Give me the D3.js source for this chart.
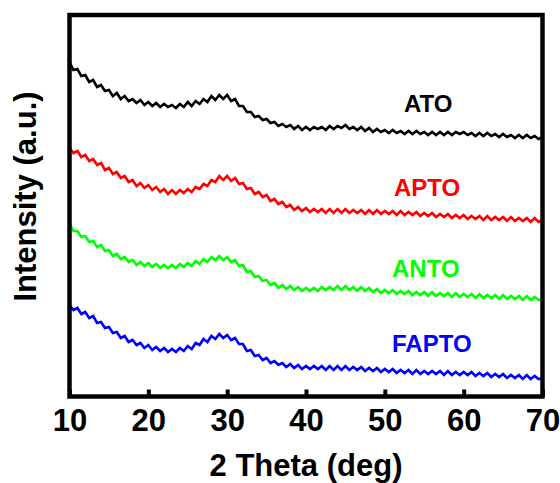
<!DOCTYPE html>
<html>
<head>
<meta charset="utf-8">
<script src="https://cdn.jsdelivr.net/npm/d3@7"></script>
<style>
  html, body { margin: 0; padding: 0; background: #fff; }
  svg { display: block; }
</style>
</head>
<body>
<svg id="chart" width="560" height="483"></svg>
<script>
// ---- data ----
// sampling grid of 2-theta (deg), 0.5 deg steps from 10 to 70
const twoTheta = d3.range(10, 70.25, 0.5);

const ATO = [
  334,326, 327,320, 321,314, 316,309, 311,305, 306,300, 303,297, 300,295, 297,293, 296,291,
  294,290, 293,289, 292,289, 291,288, 292,289, 294,290, 295,292, 297,294, 300,296, 301,297,
  301,295, 297,290, 290,284, 284,279, 280,276, 277,273, 274,270, 272,269, 271,267, 270,266,
  269,266, 269,267, 269,266, 270,267, 270,268, 271,267, 269,266, 269,265, 268,264, 267,264,
  266,263, 266,263, 265,262, 265,262, 265,262, 264,261, 264,261, 264,261, 264,261, 264,262,
  264,261, 263,260, 263,260, 263,260, 262,259, 262,259, 261,258, 261,258, 261,258, 260,257,
  259
];
const APTO = [
  248,243, 245,239, 241,235, 237,231, 233,226, 228,222, 224,218, 220,214, 216,210, 213,208,
  211,206, 209,204, 207,202, 206,202, 206,203, 207,204, 209,207, 212,210, 216,214, 220,216,
  220,215, 218,212, 213,207, 208,202, 204,199, 201,195, 197,192, 194,189, 191,186, 189,185,
  188,184, 187,184, 187,183, 187,183, 187,183, 187,183, 186,183, 186,182, 186,182, 186,182,
  185,182, 185,181, 185,181, 184,181, 184,180, 183,180, 183,179, 182,179, 182,178, 181,178,
  181,177, 180,177, 180,176, 180,176, 179,176, 179,175, 179,175, 178,175, 178,174, 178,174,
  176
];
const ANTO = [
  173,165, 165,159, 160,154, 155,149, 151,145, 146,140, 142,137, 139,134, 136,131, 134,130,
  133,129, 132,128, 131,128, 131,128, 132,129, 133,130, 135,132, 137,134, 139,136, 140,136,
  139,134, 136,130, 131,124, 125,119, 120,115, 116,111, 113,108, 111,107, 110,106, 109,105,
  108,105, 108,105, 109,106, 109,106, 110,106, 110,106, 109,105, 109,105, 108,104, 107,103,
  106,103, 106,102, 105,102, 105,101, 104,101, 104,100, 104,100, 103,100, 103,99, 103,99,
  102,99, 102,98, 102,98, 101,98, 101,97, 101,97, 100,97, 100,96, 100,96, 99,96,
  97
];
const FAPTO = [
  91,86, 88,82, 84,78, 80,73, 74,68, 69,63, 64,58, 60,54, 56,51, 53,48,
  51,46, 49,45, 48,44, 47,44, 48,45, 50,47, 53,51, 57,54, 60,57, 62,58,
  61,56, 58,52, 52,45, 46,40, 41,36, 38,33, 35,31, 33,29, 32,28, 31,27,
  30,27, 30,27, 30,26, 30,26, 30,26, 30,26, 29,26, 29,25, 28,25, 28,24,
  27,24, 27,23, 26,23, 26,22, 26,22, 25,22, 25,22, 25,21, 25,21, 24,21,
  24,21, 24,20, 23,20, 23,19, 22,19, 22,18, 21,18, 21,17, 21,17, 20,17,
  18
];

const seriesNames = ["ATO", "APTO", "ANTO", "FAPTO"];
const seriesValues = [ATO, APTO, ANTO, FAPTO];
const seriesColors = ["#000000", "#ff0000", "#00ff00", "#0000ff"];
const xTicks = [10, 20, 30, 40, 50, 60, 70];
const xTitle = "2 Theta (deg)";
const yTitle = "Intensity (a.u.)";

// ---- layout ----
const L = 69.5, R = 542.5, T = 15, B = 396.5;
const FONT = "'Liberation Sans', Arial, Helvetica, sans-serif";
const svg = d3.select("#chart");

const x = d3.scaleLinear().domain([10, 70]).range([L, R]);
const y = d3.scaleLinear().domain([0, 380]).range([396, 16]);

const line = d3.line().x((d, i) => x(twoTheta[i])).y(d => y(d));

seriesValues.forEach((vals, k) => {
  svg.append("path")
    .datum(vals)
    .attr("fill", "none")
    .attr("stroke", seriesColors[k])
    .attr("stroke-width", 2.6)
    .attr("stroke-linejoin", "miter")
    .attr("d", line);
});

// series labels
const labelPos = [[404, 112], [394, 196], [392, 277], [392, 352]];
seriesNames.forEach((n, k) => {
  svg.append("text")
    .attr("x", labelPos[k][0]).attr("y", labelPos[k][1])
    .attr("font-family", FONT).attr("font-weight", "bold").attr("font-size", 24)
    .attr("fill", seriesColors[k])
    .text(n);
});

// x axis (inward ticks + labels)
const gx = svg.append("g").attr("transform", `translate(0,${B})`)
  .call(d3.axisBottom(x).tickValues(xTicks).tickSizeInner(-7).tickSizeOuter(0));
gx.select(".domain").remove();
gx.selectAll(".tick line").attr("stroke", "#000").attr("stroke-width", 4);
gx.selectAll(".tick text")
  .attr("y", 34.5).attr("dy", null)
  .attr("font-family", FONT).attr("font-weight", "bold").attr("font-size", 31)
  .attr("fill", "#000");

// frame
svg.append("rect")
  .attr("x", L).attr("y", T).attr("width", R - L).attr("height", B - T)
  .attr("fill", "none").attr("stroke", "#000").attr("stroke-width", 4.5);

// titles
svg.append("text")
  .attr("x", (L + R) / 2).attr("y", 476)
  .attr("text-anchor", "middle")
  .attr("font-family", FONT).attr("font-weight", "bold").attr("font-size", 31)
  .text(xTitle);

svg.append("text")
  .attr("transform", "rotate(-90)")
  .attr("x", -196.5).attr("y", 36)
  .attr("text-anchor", "middle")
  .attr("font-family", FONT).attr("font-weight", "bold").attr("font-size", 31)
  .text(yTitle);
</script>
</body>
</html>
